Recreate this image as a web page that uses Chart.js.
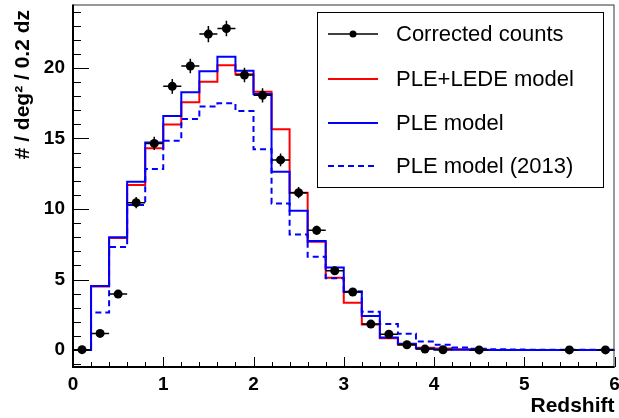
<!DOCTYPE html>
<html>
<head>
<meta charset="utf-8">
<script src="https://cdn.jsdelivr.net/npm/chart.js@4.4.1/dist/chart.umd.min.js"></script>
<style>
html, body { margin: 0; padding: 0; background: #fff; }
#wrap { width: 619px; height: 418px; }
</style>
</head>
<body>
<div id="wrap"><canvas id="zchart" width="619" height="418"></canvas></div>
<script>
// histogram bins, 0.2 wide, left edges
const binEdges = [0.0, 0.2, 0.4, 0.6, 0.8, 1.0, 1.2, 1.4, 1.6, 1.8,
                  2.0, 2.2, 2.4, 2.6, 2.8, 3.0, 3.2, 3.4, 3.6, 3.8,
                  4.0, 4.2, 4.4, 4.6, 4.8, 5.0, 5.2, 5.4, 5.6, 5.8];
const xEnd = 6.0;

const pleLede = [0, 4.5, 7.95, 11.7, 14.3, 16.0, 17.57, 19.03, 20.19, 19.55,
                 18.32, 15.65, 11.15, 7.68, 5.12, 3.35, 1.82, 0.83, 0.38, 0.17,
                 0.12, 0.05, 0.02, 0.01, 0.01, 0.01, 0.01, 0, 0, 0];
const ple = [0, 4.55, 7.99, 11.94, 14.72, 16.6, 18.27, 19.76, 20.8, 19.8,
             18.15, 12.65, 9.88, 7.73, 5.86, 4.13, 2.41, 0.9, 0.45, 0.12,
             0.04, 0.02, 0.01, 0.01, 0, 0, 0, 0, 0, 0];
const ple2013 = [0, 2.67, 7.3, 10.28, 12.84, 14.84, 16.38, 17.26, 17.5, 16.95,
                 14.23, 10.4, 8.2, 6.62, 5.1, 4.15, 2.72, 1.84, 1.16, 0.6,
                 0.38, 0.19, 0.1, 0.06, 0.04, 0.03, 0.02, 0.02, 0.02, 0.02];

// corrected counts with errors
const countsX = [0.1, 0.3, 0.5, 0.7, 0.9, 1.1, 1.3, 1.5, 1.7, 1.9, 2.1, 2.3,
                 2.5, 2.7, 2.9, 3.1, 3.3, 3.5, 3.7, 3.9, 4.1, 4.5, 5.5, 5.9];
const countsY = [0.03, 1.18, 3.97, 10.45, 14.65, 18.7, 20.14, 22.4, 22.8, 19.5, 18.06, 13.48,
                 11.16, 8.49, 5.62, 4.12, 1.84, 1.13, 0.38, 0.07, 0.02, 0.01, 0.01, 0.01];
const countsErr = [0.03, 0.15, 0.25, 0.4, 0.47, 0.52, 0.52, 0.57, 0.55, 0.52, 0.5, 0.45,
                   0.4, 0.33, 0.27, 0.22, 0.13, 0.1, 0.06, 0.03, 0.02, 0.01, 0.01, 0.01];
const countsXErr = 0.1;

const xTicks = [0, 1, 2, 3, 4, 5, 6];
const yTicks = [0, 5, 10, 15, 20];

const labelFont = 'Liberation Sans, Arial, Helvetica, sans-serif';

function histPoints(vals) {
  const pts = binEdges.map((e, i) => ({x: e, y: vals[i]}));
  pts.push({x: xEnd, y: vals[vals.length - 1]});
  return pts;
}

function histSet(label, vals, color, dash) {
  return {
    label: label,
    data: histPoints(vals),
    borderColor: color,
    borderWidth: 2,
    borderDash: dash || [],
    stepped: 'before',   // horizontal over the bin, then jump
    pointRadius: 0,
    fill: false
  };
}

// ROOT-like frame, ticks, titles, legend, error bars
const rootStyle = {
  id: 'rootStyle',
  beforeDatasetDraw(chart, args) {
    if (args.index !== 0) return;
    const {ctx, scales: {x, y}} = chart;
    ctx.save();
    ctx.strokeStyle = '#000';
    ctx.lineWidth = 1.5;
    countsX.forEach((cx, i) => {
      const px = x.getPixelForValue(cx);
      const py = y.getPixelForValue(countsY[i]);
      ctx.beginPath();
      ctx.moveTo(x.getPixelForValue(cx - countsXErr), py);
      ctx.lineTo(x.getPixelForValue(cx + countsXErr), py);
      ctx.moveTo(px, y.getPixelForValue(countsY[i] - countsErr[i]));
      ctx.lineTo(px, y.getPixelForValue(countsY[i] + countsErr[i]));
      ctx.stroke();
    });
    ctx.restore();
  },
  afterDraw(chart) {
    const {ctx, chartArea: a, scales: {x, y}} = chart;
    ctx.save();
    // frame
    ctx.strokeStyle = '#333';
    ctx.lineWidth = 1;
    ctx.strokeRect(a.left + 0.5, a.top + 0.5, a.right - a.left - 1, a.bottom - a.top);
    // axes
    ctx.strokeStyle = '#000';
    ctx.lineWidth = 2;
    ctx.beginPath();
    ctx.moveTo(a.left, a.top);
    ctx.lineTo(a.left, a.bottom);
    ctx.lineTo(a.right, a.bottom);
    ctx.stroke();
    // ticks
    ctx.lineWidth = 1;
    ctx.beginPath();
    for (let i = 0; i <= 30; i++) {
      const px = Math.round(x.getPixelForValue(i / 5)) + 0.5;
      const len = i % 5 === 0 ? 10 : 5;
      ctx.moveTo(px, a.bottom);
      ctx.lineTo(px, a.bottom - len);
    }
    for (let v = -1; v <= 24; v++) {
      const py = Math.round(y.getPixelForValue(v)) + 0.5;
      const len = v % 5 === 0 ? 16 : 8;
      ctx.moveTo(a.left, py);
      ctx.lineTo(a.left + len, py);
    }
    ctx.stroke();
    // axis titles
    ctx.fillStyle = '#000';
    ctx.font = 'bold 21px ' + labelFont;
    ctx.textAlign = 'right';
    ctx.textBaseline = 'alphabetic';
    ctx.fillText('Redshift', a.right, 411.5);
    ctx.save();
    ctx.translate(29, 10);
    ctx.rotate(-Math.PI / 2);
    ctx.fillText('# / deg\u00B2 / 0.2 dz', 0, 0);
    ctx.restore();
    // legend
    const box = {l: 317.5, t: 12.5, w: 286, h: 175};
    ctx.fillStyle = '#fff';
    ctx.fillRect(box.l, box.t, box.w, box.h);
    ctx.strokeStyle = '#000';
    ctx.lineWidth = 1;
    ctx.strokeRect(box.l, box.t, box.w, box.h);
    const order = ['Corrected counts', 'PLE+LEDE model', 'PLE model', 'PLE model (2013)'];
    const rows = [34, 79, 123, 166];
    ctx.font = '22px ' + labelFont;
    ctx.textAlign = 'left';
    ctx.textBaseline = 'middle';
    order.forEach((lab, i) => {
      const ds = chart.data.datasets.find(d => d.label === lab);
      const ry = rows[i];
      ctx.strokeStyle = ds.borderColor;
      ctx.lineWidth = ds.borderWidth;
      ctx.setLineDash(ds.borderDash || []);
      ctx.beginPath();
      ctx.moveTo(328, ry);
      ctx.lineTo(378, ry);
      ctx.stroke();
      ctx.setLineDash([]);
      if (ds.showLine === false) {
        ctx.fillStyle = '#000';
        ctx.beginPath();
        ctx.arc(353, ry, 3.5, 0, Math.PI * 2);
        ctx.fill();
      }
      ctx.fillStyle = '#000';
      ctx.fillText(lab, 396, ry + 1);
    });
    ctx.restore();
  }
};

const ctx = document.getElementById('zchart').getContext('2d');
const zchart = new Chart(ctx, {
  type: 'line',
  data: {
    datasets: [
      {
        label: 'Corrected counts',
        data: countsX.map((v, i) => ({x: v, y: countsY[i]})),
        showLine: false,
        borderColor: '#000',
        borderWidth: 1.5,
        pointRadius: 4.5,
        pointBackgroundColor: '#000',
        pointBorderWidth: 0
      },
      histSet('PLE model (2013)', ple2013, '#0000ff', [6, 4]),
      histSet('PLE model', ple, '#0000ff'),
      histSet('PLE+LEDE model', pleLede, '#ff0000')
    ]
  },
  options: {
    responsive: false,
    animation: false,
    events: [],
    layout: { padding: { top: 3, right: 3, left: 0, bottom: 0 } },
    plugins: {
      legend: { display: false },
      tooltip: { enabled: false }
    },
    scales: {
      x: {
        type: 'linear',
        min: 0,
        max: 6,
        grid: { display: false, drawTicks: false },
        border: { display: false },
        ticks: {
          font: { family: labelFont, size: 19, weight: 'bold' },
          color: '#000',
          padding: 6,
          maxRotation: 0,
          autoSkip: false,
          includeBounds: false
        },
        afterBuildTicks: s => { s.ticks = xTicks.map(v => ({value: v})); },
        afterFit: s => { s.height = 51; s.paddingLeft = 0; s.paddingRight = 0; }
      },
      y: {
        type: 'linear',
        min: -1.2,
        max: 24.5,
        grid: { display: false, drawTicks: false },
        border: { display: false },
        ticks: {
          font: { family: labelFont, size: 19, weight: 'bold' },
          color: '#000',
          padding: 8,
          includeBounds: false
        },
        afterBuildTicks: s => { s.ticks = yTicks.map(v => ({value: v})); },
        afterFit: s => { s.width = 73; s.paddingTop = 0; s.paddingBottom = 0; }
      }
    }
  },
  plugins: [rootStyle]
});
</script>
</body>
</html>
